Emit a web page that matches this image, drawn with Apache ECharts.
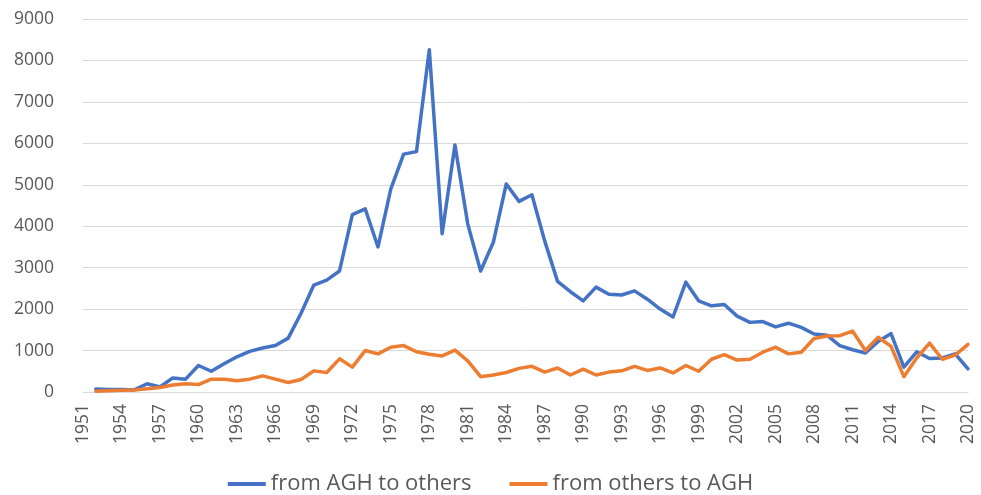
<!DOCTYPE html>
<html>
<head>
<meta charset="utf-8">
<script src="https://cdn.jsdelivr.net/npm/echarts@6/dist/echarts.min.js"></script>
<style>
  html, body { margin: 0; padding: 0; background: #fff; }
  #chart { width: 981px; height: 495px; }
</style>
</head>
<body>
<div id="chart"></div>
<script>
// years 1951..2020 (no values for 1951)
var years = [];
for (var y = 1951; y <= 2020; y++) years.push(String(y));

var fromAGH = [
  "-", 70, 60, 60, 50, 200, 120, 340, 310, 640,
  500, 680, 850, 980, 1060, 1120, 1300, 1900, 2580, 2700,
  2920, 4280, 4420, 3500, 4900, 5740, 5800, 8260, 3820, 5960,
  4050, 2920, 3620, 5020, 4600, 4760, 3640, 2670, 2420, 2200,
  2530, 2360, 2340, 2440, 2240, 2000, 1810, 2650, 2200, 2080,
  2110, 1830, 1680, 1700, 1570, 1660, 1560, 1400, 1370, 1120,
  1020, 940, 1220, 1410, 600, 970, 810, 820, 920, 560
];

var toAGH = [
  "-", 20, 30, 40, 50, 80, 110, 170, 200, 180,
  310, 310, 270, 310, 390, 310, 230, 300, 510, 470,
  800, 600, 1000, 920, 1080, 1120, 970, 910, 870, 1010,
  750, 370, 410, 470, 570, 620, 480, 580, 410, 550,
  410, 480, 510, 620, 520, 580, 460, 640, 500, 790,
  900, 770, 790, 960, 1080, 920, 960, 1290, 1350, 1360,
  1470, 1000, 1320, 1100, 370, 820, 1180, 790, 890, 1150
];

var chart = echarts.init(document.getElementById("chart"));
var option = {
  animation: false,
  color: ["#4472C4", "#ED7D31"],
  grid: { left: 83, right: 13, top: 19, bottom: 103 },
  legend: {
    bottom: -5,
    icon: "rect",
    itemWidth: 38,
    itemHeight: 4,
    itemGap: 38,
    textStyle: { color: "#595959", fontSize: 22, fontFamily: "Open Sans" },
    data: ["from AGH to others", "from others to AGH"]
  },
  xAxis: {
    type: "category",
    boundaryGap: false,
    data: years,
    axisLine: { lineStyle: { color: "#d9d9d9" } },
    axisTick: { show: false },
    axisLabel: {
      interval: 2,
      rotate: 90,
      color: "#595959",
      fontSize: 17.5,
      fontFamily: "Open Sans",
      margin: 12
    }
  },
  yAxis: {
    type: "value",
    min: 0,
    max: 9000,
    interval: 1000,
    axisLine: { show: false },
    axisTick: { show: false },
    splitLine: { lineStyle: { color: "#d9d9d9", width: 1 } },
    axisLabel: {
      color: "#595959",
      fontSize: 17.5,
      fontFamily: "Open Sans",
      margin: 29,
      formatter: function (v) { return String(v); }
    }
  },
  series: [
    {
      name: "from AGH to others",
      type: "line",
      data: fromAGH,
      showSymbol: false,
      lineStyle: { width: 3.5, cap: "round", join: "round" }
    },
    {
      name: "from others to AGH",
      type: "line",
      data: toAGH,
      showSymbol: false,
      lineStyle: { width: 3.5, cap: "round", join: "round" }
    }
  ]
};
chart.setOption(option);
</script>
</body>
</html>
